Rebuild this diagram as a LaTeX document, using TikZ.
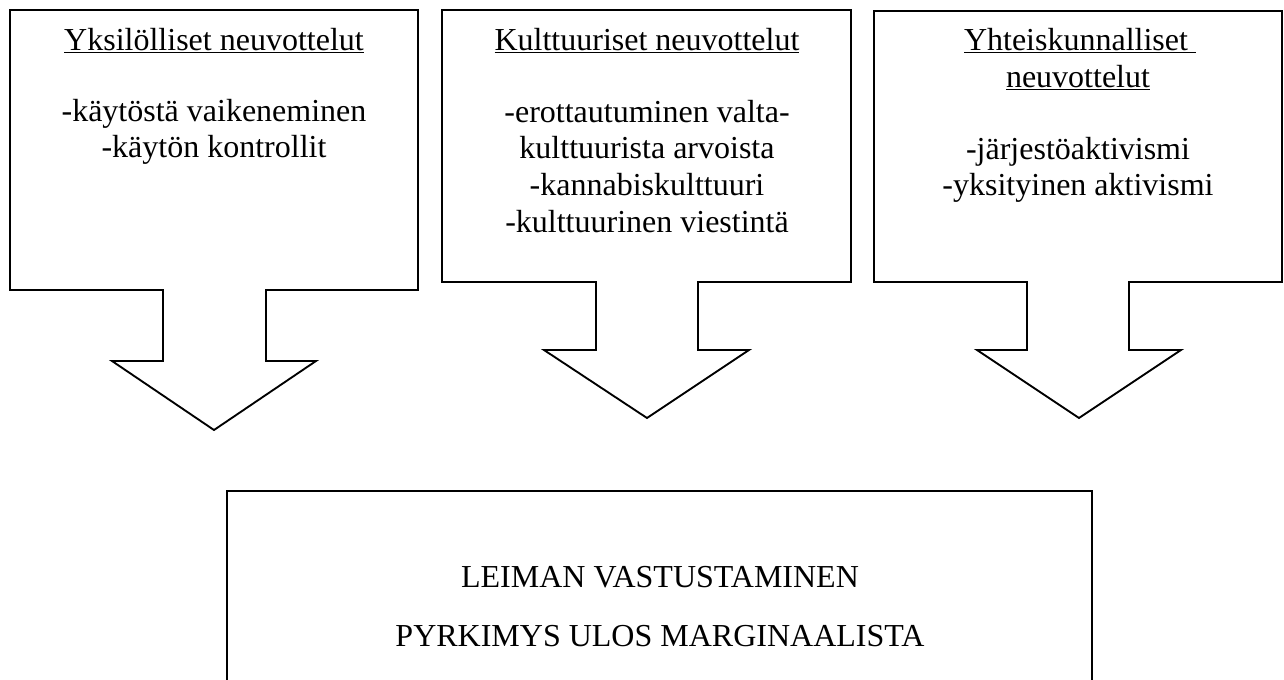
\documentclass[tikz,border=0pt]{standalone}
\usepackage{fontspec}
\setmainfont{Liberation Serif}
\newcommand\myul[1]{\setbox0\hbox{#1}\rlap{\rule[-2.6pt]{\wd0}{1.1pt}}\box0}
\begin{document}
\begin{tikzpicture}[x=0.75pt,y=-0.75pt,
  shapeline/.style={draw=black,line width=1.4pt,line join=miter,fill=white},
  txt/.style={anchor=base,inner sep=0pt,font=\fontsize{24}{27.6}\selectfont}]
\useasboundingbox (0,0) rectangle (1284,679);
\clip (0,0) rectangle (1284,679);
% callout 1
\draw[shapeline] (10,10) -- (418,10) -- (418,290) -- (266,290) -- (266,361) -- (316,361)
  -- (214,430) -- (112,361) -- (163,361) -- (163,290) -- (10,290) -- cycle;
% callout 2
\draw[shapeline] (442,10) -- (851,10) -- (851,282) -- (698,282) -- (698,350) -- (749,350)
  -- (647,418) -- (544,350) -- (596,350) -- (596,282) -- (442,282) -- cycle;
% callout 3
\draw[shapeline] (874,11) -- (1282,11) -- (1282,282) -- (1129,282) -- (1129,350) -- (1181,350)
  -- (1079,418) -- (977,350) -- (1027,350) -- (1027,282) -- (874,282) -- cycle;
% bottom box
\draw[shapeline] (227,491) rectangle (1092,720);

% texts box 1
\node[txt] (t1) at (214,50) {\myul{Yksilölliset neuvottelut}};
\node[txt] (a1) at (214,121) {-käytöstä vaikeneminen};
\node[txt] (a2) at (214,157) {-käytön kontrollit};
% texts box 2
\node[txt] (t2) at (647,50) {\myul{Kulttuuriset neuvottelut}};
\node[txt] (b1) at (647,122) {-erottautuminen valta-};
\node[txt] (b2) at (647,158.7) {kulttuurista arvoista};
\node[txt] (b3) at (647,195.4) {-kannabiskulttuuri};
\node[txt] (b4) at (647,232) {-kulttuurinen viestintä};
% texts box 3
\node[txt] (t3a) at (1080,50) {\myul{Yhteiskunnalliset\ }};
\node[txt] (t3b) at (1078,87) {\myul{neuvottelut}};
\node[txt] (c1) at (1078,159) {-järjestöaktivismi};
\node[txt] (c2) at (1078,195.5) {-yksityinen aktivismi};
% bottom texts
\node[txt] (d1) at (660,587) {LEIMAN VASTUSTAMINEN};
\node[txt] (d2) at (660,646) {PYRKIMYS ULOS MARGINAALISTA};
\end{tikzpicture}
\end{document}
